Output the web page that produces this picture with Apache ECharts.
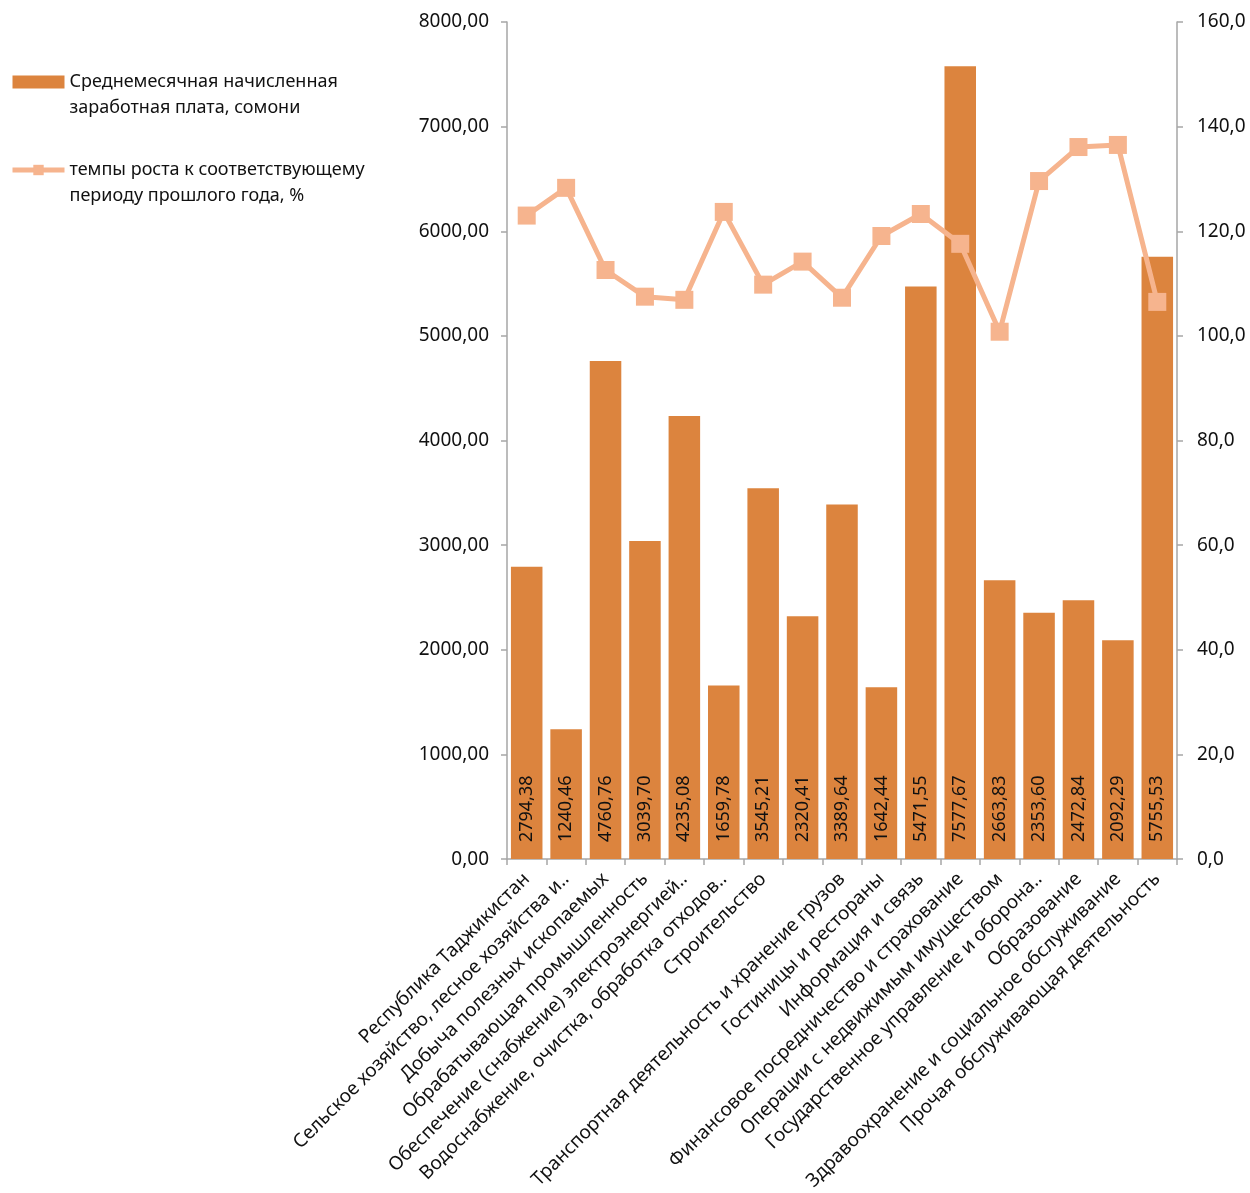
<!DOCTYPE html>
<html>
<head>
<meta charset="utf-8">
<script src="https://cdn.jsdelivr.net/npm/echarts@6/dist/echarts.min.js"></script>
<style>
html,body{margin:0;padding:0;background:#fff;}
#chart{width:1250px;height:1193px;}
</style>
</head>
<body>
<div id="chart"></div>
<script>
// 17 categories; the 8th category label is not shown in the reference (blank)
const categories = [
  "Республика Таджикистан",
  "Сельское хозяйство, лесное хозяйства и..",
  "Добыча полезных ископаемых",
  "Обрабатывающая промышленность",
  "Обеспечение (снабжение) электроэнергией..",
  "Водоснабжение, очистка, обработка отходов..",
  "Строительство",
  "",
  "Транспортная деятельность и хранение грузов",
  "Гостиницы и рестораны",
  "Информация и связь",
  "Финансовое посредничество и страхование",
  "Операции с недвижимым имуществом",
  "Государственное управление и оборона..",
  "Образование",
  "Здравоохранение и социальное обслуживание",
  "Прочая обслуживающая деятельность"
];
const wages = [2794.38, 1240.46, 4760.76, 3039.70, 4235.08, 1659.78, 3545.21, 2320.41, 3389.64, 1642.44, 5471.55, 7577.67, 2663.83, 2353.60, 2472.84, 2092.29, 5755.53];
const growth = [123.0, 128.3, 112.6, 107.5, 106.9, 123.7, 109.8, 114.2, 107.3, 119.1, 123.3, 117.6, 100.8, 129.6, 136.1, 136.5, 106.5];
const seriesNames = ["Среднемесячная начисленная\nзаработная плата, сомони", "темпы роста к соответствующему\nпериоду прошлого года, %"];
const leftTicks = {min: 0, max: 8000, interval: 1000};
const rightTicks = {min: 0, max: 160, interval: 20};
</script>
<script>
const FONT = "'Noto Sans', 'Liberation Sans', sans-serif";
const chart = echarts.init(document.getElementById('chart'), null, {renderer: 'canvas'});
const axisColor = '#A6A6A6';
const fmt2 = v => Number(v).toFixed(2).replace('.', ',');
const fmt1 = v => Number(v).toFixed(1).replace('.', ',');
chart.setOption({
  animation: false,
  backgroundColor: '#fff',
  textStyle: {fontFamily: FONT},
  grid: {left: 507, right: 73, top: 22, bottom: 333},
  legend: {
    orient: 'vertical',
    left: 5,
    top: 38,
    itemGap: 10,
    itemWidth: 52,
    itemHeight: 13,
    lineStyle: {width: 5},
    textStyle: {fontFamily: FONT, fontSize: 18, color: '#111', lineHeight: 26},
    data: [
      {name: seriesNames[0], icon: 'rect'},
      {name: seriesNames[1]}
    ],
    formatter: n => '\n' + n
  },
  xAxis: {
    type: 'category',
    data: categories,
    axisLine: {lineStyle: {color: axisColor, width: 1.5}},
    axisTick: {show: true, length: 6, lineStyle: {color: axisColor, width: 1.5}},
    axisLabel: {interval: 0, rotate: 45, fontSize: 19, color: '#111', fontFamily: FONT, margin: 17}
  },
  yAxis: [
    {
      type: 'value', min: leftTicks.min, max: leftTicks.max, interval: leftTicks.interval,
      splitLine: {show: false},
      axisLine: {show: true, lineStyle: {color: axisColor, width: 1.5}},
      axisTick: {show: true, length: 6, lineStyle: {color: axisColor, width: 1.5}},
      axisLabel: {formatter: fmt2, fontSize: 19, color: '#111', fontFamily: FONT, margin: 18}
    },
    {
      type: 'value', min: rightTicks.min, max: rightTicks.max, interval: rightTicks.interval,
      position: 'right',
      splitLine: {show: false},
      axisLine: {show: true, lineStyle: {color: axisColor, width: 1.5}},
      axisTick: {show: true, length: 6, lineStyle: {color: axisColor, width: 1.5}},
      axisLabel: {formatter: fmt1, fontSize: 19, color: '#111', fontFamily: FONT, margin: 20}
    }
  ],
  series: [
    {
      name: seriesNames[0],
      type: 'bar',
      data: wages,
      barCategoryGap: '20%',
      itemStyle: {color: '#DC843E'},
      label: {
        show: true,
        position: 'insideBottom',
        rotate: 90,
        align: 'left',
        verticalAlign: 'middle',
        distance: 17,
        fontSize: 18,
        color: '#111',
        fontFamily: FONT,
        formatter: p => fmt2(p.value)
      }
    },
    {
      name: seriesNames[1],
      type: 'line',
      yAxisIndex: 1,
      data: growth,
      symbol: 'rect',
      symbolSize: 18,
      lineStyle: {color: '#F6B48E', width: 5},
      itemStyle: {color: '#F6B48E'},
      z: 5
    }
  ]
});
</script>
</body>
</html>
